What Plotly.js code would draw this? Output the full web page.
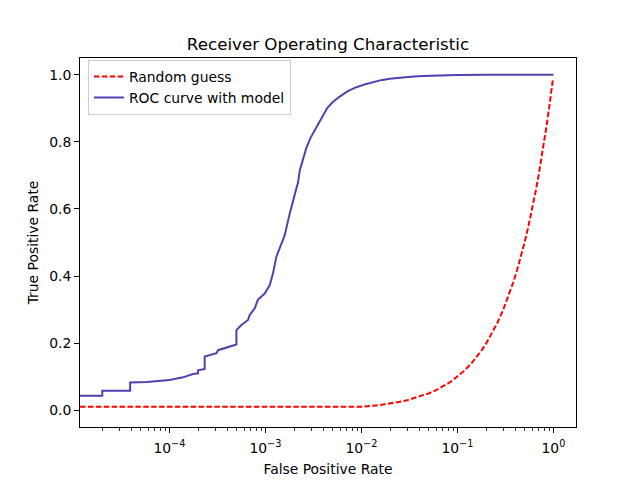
<!DOCTYPE html>
<html>
<head>
<meta charset="utf-8">
<script src="https://cdn.plot.ly/plotly-3.0.1.min.js"></script>
<style>html,body{margin:0;padding:0;background:#fff;}#chart{width:640px;height:480px;}</style>
</head>
<body>
<div id="chart"></div>
<script>
// Random guess line (FPR, TPR)
const randomFpr = [1e-6, 0.01, 0.015, 0.02, 0.025, 0.03, 0.04, 0.05, 0.06, 0.07, 0.08, 0.09, 0.1, 0.12, 0.14, 0.16, 0.18,
  0.2, 0.23, 0.26, 0.3, 0.34, 0.38, 0.42, 0.46, 0.5, 0.55, 0.6, 0.65, 0.7, 0.75, 0.8, 0.85, 0.9, 0.95, 0.99];
const randomTpr = [0.01, 0.01, 0.015, 0.02, 0.025, 0.03, 0.04, 0.05, 0.06, 0.07, 0.08, 0.09, 0.1, 0.12, 0.14, 0.16, 0.18,
  0.2, 0.23, 0.26, 0.3, 0.34, 0.38, 0.42, 0.46, 0.5, 0.55, 0.6, 0.65, 0.7, 0.75, 0.8, 0.85, 0.9, 0.95, 0.99];

// ROC curve with model (FPR, TPR)
const rocFpr = [1e-6, 2.0e-5, 2.0e-5, 3.9e-5, 3.9e-5, 5.8e-5, 1.0e-4, 1.18e-4, 1.39e-4, 1.76e-4, 1.99e-4, 1.99e-4,
  2.33e-4, 2.33e-4, 3.09e-4, 3.21e-4, 4.6e-4, 4.99e-4, 4.99e-4, 5.62e-4, 6.59e-4, 6.86e-4, 7.74e-4, 8.37e-4,
  9.84e-4, 1.11e-3, 1.20e-3, 1.30e-3, 1.47e-3, 1.59e-3, 1.79e-3, 2.02e-3, 2.19e-3, 2.28e-3, 2.47e-3, 2.67e-3,
  2.95e-3, 3.26e-3, 3.8e-3, 4.40e-3, 5.0e-3, 5.94e-3, 7.2e-3, 8.87e-3, 1.1e-2, 1.32e-2, 1.6e-2, 1.97e-2,
  2.4e-2, 2.94e-2, 3.5e-2, 4.38e-2, 6.54e-2, 0.1, 0.2, 1.0];
const rocTpr = [0.043, 0.043, 0.058, 0.058, 0.083, 0.084, 0.090, 0.094, 0.098, 0.108, 0.110, 0.119,
  0.123, 0.160, 0.170, 0.179, 0.194, 0.196, 0.239, 0.254, 0.269, 0.284, 0.304, 0.330,
  0.348, 0.373, 0.408, 0.457, 0.497, 0.522, 0.586, 0.646, 0.680, 0.715, 0.752, 0.782,
  0.812, 0.834, 0.870, 0.901, 0.918, 0.935, 0.951, 0.963, 0.972, 0.978, 0.984, 0.988,
  0.991, 0.993, 0.995, 0.996, 0.998, 0.999, 1.0, 1.0];

const xTickVals = [1e-4, 1e-3, 1e-2, 1e-1, 1];
const xTickText = ['10<sup>−4</sup>', '10<sup>−3</sup>', '10<sup>−2</sup>', '10<sup>−1</sup>', '10<sup>0</sup>'];
const yTickVals = [0.0, 0.2, 0.4, 0.6, 0.8, 1.0];
const yTickText = ['0.0', '0.2', '0.4', '0.6', '0.8', '1.0'];

const font = 'DejaVu Sans, sans-serif';

const traces = [
  {x: randomFpr, y: randomTpr, mode: 'lines', name: 'Random guess',
   line: {color: '#ff0000', width: 2, dash: '5.5px,2.4px'}},
  {x: rocFpr, y: rocTpr, mode: 'lines', name: 'ROC curve with model',
   line: {color: '#5040b0', width: 2}}
];

const layout = {
  width: 640, height: 480,
  margin: {l: 80, r: 64, t: 58, b: 53},
  paper_bgcolor: '#fff', plot_bgcolor: '#fff',
  font: {family: font, size: 13.9, color: '#000'},
  title: {text: 'Receiver Operating Characteristic', font: {family: font, size: 16.7, color: '#000'},
          x: 0.5125, xanchor: 'center', y: 0.908, yanchor: 'middle'},
  showlegend: true,
  legend: {x: 0.016, y: 0.995, xanchor: 'left', yanchor: 'top',
           bgcolor: 'rgba(255,255,255,0.8)', bordercolor: '#cccccc', borderwidth: 1,
           font: {family: font, size: 13.9, color: '#000'}, itemwidth: 30, tracegroupgap: 0},
  xaxis: {type: 'log', range: [-4.931, 0.2347], showgrid: false, zeroline: false,
          showline: true, linecolor: '#000', linewidth: 1, mirror: true,
          ticks: 'outside', ticklen: 5, tickwidth: 1, tickcolor: '#000',
          tickmode: 'array', tickvals: xTickVals, ticktext: xTickText, ticklabelstandoff: 3,
          tickfont: {family: font, size: 13.9, color: '#000'},
          minor: {ticks: 'outside', ticklen: 3, tickwidth: 0.8, tickcolor: '#000', dtick: 'D1', showgrid: false},
          title: {text: 'False Positive Rate', font: {family: font, size: 13.9, color: '#000'}, standoff: 9}},
  yaxis: {range: [-0.05, 1.05], showgrid: false, zeroline: false,
          showline: true, linecolor: '#000', linewidth: 1, mirror: true,
          ticks: 'outside', ticklen: 5, tickwidth: 1, tickcolor: '#000',
          tickmode: 'array', tickvals: yTickVals, ticktext: yTickText,
          tickfont: {family: font, size: 13.9, color: '#000'},
          title: {text: 'True Positive Rate', font: {family: font, size: 13.9, color: '#000'}, standoff: 7}}
};

Plotly.newPlot('chart', traces, layout, {displayModeBar: false, staticPlot: true});
</script>
</body>
</html>
